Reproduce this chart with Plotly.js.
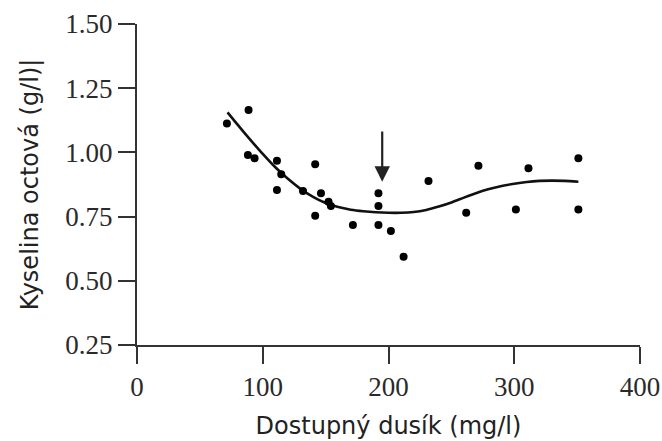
<!DOCTYPE html>
<html>
<head>
<meta charset="utf-8">
<script src="https://cdn.plot.ly/plotly-3.0.1.min.js"></script>
<style>html,body{margin:0;padding:0;background:#fff;}#chart{width:662px;height:441px;}</style>
</head>
<body>
<div id="chart"></div>
<script>
// Measured points: available nitrogen (mg/l) vs acetic acid (g/l)
var nitrogen = [71.5, 88.7, 88.2, 93.5, 111.3, 114.7, 111.3, 141.7, 132, 146.3, 152.3, 154.2, 141.7, 171.7, 192, 192, 192, 201.9, 212, 231.8, 271.5, 261.8, 301.3, 311.3, 351, 351];
var acid = [1.113, 1.165, 0.990, 0.977, 0.967, 0.915, 0.854, 0.954, 0.850, 0.841, 0.808, 0.791, 0.753, 0.717, 0.841, 0.791, 0.717, 0.694, 0.594, 0.889, 0.948, 0.765, 0.778, 0.938, 0.977, 0.778];

// Fitted curve
var fitX = [72, 80, 90, 100, 110, 120, 130, 140, 150, 160, 170, 180, 190, 200, 210, 220, 230, 240, 250, 260, 270, 280, 290, 300, 310, 320, 330, 340, 351];
var fitY = [1.156, 1.108, 1.050, 0.994, 0.942, 0.897, 0.858, 0.827, 0.803, 0.787, 0.777, 0.771, 0.767, 0.765, 0.765, 0.768, 0.776, 0.789, 0.805, 0.824, 0.842, 0.857, 0.869, 0.878, 0.885, 0.889, 0.890, 0.889, 0.886];

// Arrow marker position
var arrowX = [195];
var arrowY = [0.886, 1.087];

var xTicks = [0, 100, 200, 300, 400];
var yTicks = [0.25, 0.50, 0.75, 1.00, 1.25, 1.50];

var xTitle = 'Dostupný dusík (mg/l)';
var yTitle = 'Kyselina octová (g/l)|';

var traces = [
  {x: fitX, y: fitY, mode: 'lines', type: 'scatter',
   line: {color: '#111', width: 2.6, shape: 'spline', smoothing: 0.8}, hoverinfo: 'skip'},
  {x: nitrogen, y: acid, mode: 'markers', type: 'scatter',
   marker: {color: '#000', size: 8}}
];

var tickFont = {family: 'Liberation Serif, Times New Roman, serif', size: 27, color: '#2a2a2a'};
var titleFont = {family: 'DejaVu Sans, sans-serif', size: 24, color: '#222'};

var layout = {
  width: 662, height: 441,
  margin: {l: 137, r: 22, t: 24, b: 96, pad: 0},
  showlegend: false,
  paper_bgcolor: '#fff', plot_bgcolor: '#fff',
  xaxis: {
    range: [0, 400], tickvals: xTicks, ticktext: xTicks.map(String),
    showgrid: false, zeroline: false, showline: true, linecolor: '#333', linewidth: 2,
    ticks: 'outside', ticklen: 17, tickwidth: 2, tickcolor: '#333',
    tickfont: tickFont, automargin: false,
    title: {text: xTitle, font: titleFont, standoff: 16}
  },
  yaxis: {
    range: [0.25, 1.5], tickvals: yTicks, ticktext: yTicks.map(function(v){return v.toFixed(2);}),
    showgrid: false, zeroline: false, showline: true, linecolor: '#333', linewidth: 2,
    ticks: 'outside', ticklen: 17, tickwidth: 2, tickcolor: '#333',
    tickfont: tickFont, automargin: false,
    title: {text: yTitle, font: titleFont, standoff: 20}
  },
  annotations: [{
    x: arrowX[0], y: arrowY[0], ax: arrowX[0], ay: arrowY[1],
    xref: 'x', yref: 'y', axref: 'x', ayref: 'y',
    text: '', showarrow: true, arrowhead: 2, arrowsize: 1.4, arrowwidth: 2.2, arrowcolor: '#222'
  }]
};

Plotly.newPlot('chart', traces, layout, {staticPlot: true, displayModeBar: false});
</script>
</body>
</html>
